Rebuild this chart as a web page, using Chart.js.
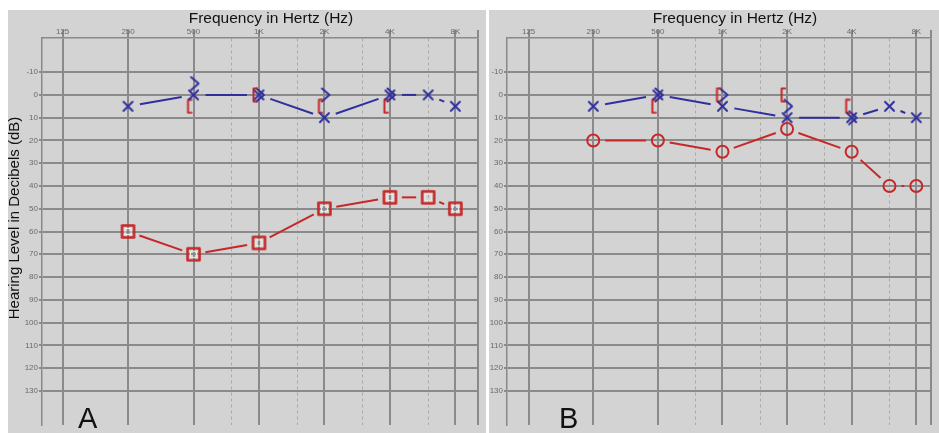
<!DOCTYPE html>
<html>
<head>
<meta charset="utf-8">
<script src="https://cdn.jsdelivr.net/npm/chart.js@4.4.0/dist/chart.umd.min.js"></script>
<style>
html,body{margin:0;padding:0;background:#fff;}
body{width:939px;height:433px;position:relative;overflow:hidden;}
.panel{position:absolute;top:10px;height:423px;background:#d3d3d3;}
#pa{left:8px;width:478px;}
#pb{left:489px;width:450px;}
canvas{display:block;}
</style>
</head>
<body>
<div class="panel" id="pa"><canvas id="chartA" width="478" height="423"></canvas></div>
<div class="panel" id="pb"><canvas id="chartB" width="450" height="423"></canvas></div>
<script>
// frequencies (Hz) and hearing levels (dB HL)
const freqs = [250, 500, 1000, 2000, 4000, 6000, 8000];
const boneFreqs = [500, 1000, 2000, 4000];
const freqTicks = [125, 250, 500, 750, 1000, 1500, 2000, 3000, 4000, 6000, 8000];
const freqLabels = ['125', '250', '500', '', '1K', '', '2K', '', '4K', '', '8K'];
const dbTicks = [-10, 0, 10, 20, 30, 40, 50, 60, 70, 80, 90, 100, 110, 120, 130];

// panel A
const aRightAir = [60, 70, 65, 50, 45, 45, 50];
const aLeftAir = [5, 0, 0, 10, 0, 0, 5];
const aLeftBone = [-5, 0, 0, 0];
const aRightBoneMasked = [5, 0, 5, 5];

// panel B
const bRightAir = [20, 20, 25, 15, 25, 40, 40];
const bLeftAir = [5, 0, 5, 10, 10, 5, 10];
const bLeftBone = [0, 0, 5, 10];
const bRightBoneMasked = [5, 0, 0, 5];

const BLUE = '#2f2f9e';
const RED = '#c62828';
const GRID = '#8a8a8a';
const FONT = '"Liberation Sans", Arial, sans-serif';
const minorFreqs = [750, 1500, 3000, 6000];

function glyph(w, h, color, lw, path){
    const c = document.createElement('canvas');
    c.width = w; c.height = h;
    const g = c.getContext('2d');
    g.strokeStyle = color; g.lineWidth = lw;
    g.lineCap = 'round'; g.lineJoin = 'round';
    g.beginPath(); path(g); g.stroke();
    return c;
}
const xMark = glyph(13, 13, BLUE, 2, g => { g.moveTo(2,2); g.lineTo(11,11); g.moveTo(11,2); g.lineTo(2,11); });
const chevron = glyph(16, 16, BLUE, 2, g => { g.moveTo(5.5,1.5); g.lineTo(13,8); g.lineTo(5.5,14.5); });
const bracket = glyph(16, 16, RED, 2, g => { g.moveTo(6,1.5); g.lineTo(2.5,1.5); g.lineTo(2.5,14.5); g.lineTo(6,14.5); });
const square = (function(){
    const c = glyph(17, 17, RED, 2.6, g => { g.rect(2.5, 2.5, 12, 12); });
    const g = c.getContext('2d');
    g.strokeStyle = '#ececec'; g.lineWidth = 1.2;
    g.strokeRect(5.5, 5.5, 6, 6);
    return c;
})();

// leave a gap around each symbol, as audiogram software does
function gapDash(c){
    const len = Math.hypot(c.p1.x - c.p0.x, c.p1.y - c.p0.y);
    const g = Math.min(12, len / 2 - 1);
    return [0, g, Math.max(len - 2 * g, 0), 1000 + c.p0DataIndex * 0.01];
}

function pts(xs, ys){ return xs.map((f, i) => ({x: f, y: ys[i]})); }

const textPlugin = {
    id: 'panelText',
    afterDraw(chart, args, o){
        const ctx = chart.ctx;
        ctx.save();
        ctx.fillStyle = '#111';
        ctx.font = '15.5px ' + FONT;
        ctx.textAlign = 'center';
        ctx.textBaseline = 'alphabetic';
        ctx.fillText('Frequency in Hertz (Hz)', o.titleX, 13);
        if (o.yLabel) {
            ctx.save();
            ctx.font = '15px ' + FONT;
            ctx.translate(11, 208);
            ctx.rotate(-Math.PI / 2);
            ctx.fillText(o.yLabel, 0, 0);
            ctx.restore();
        }
        ctx.font = '29px ' + FONT;
        ctx.textAlign = 'left';
        ctx.fillText(o.letter, 70, 418);
        ctx.restore();
    }
};

function audiogram(id, opt){
    const ctx = document.getElementById(id).getContext('2d');
    new Chart(ctx, {
        type: 'line',
        data: {
            datasets: [
                {
                    data: pts(freqs, opt.rightAir),
                    borderColor: RED, borderWidth: 2, tension: 0,
                    pointStyle: opt.rightStyle, pointRadius: 6,
                    pointBorderColor: RED, pointBorderWidth: 2,
                    pointBackgroundColor: 'rgba(0,0,0,0)',
                    segment: {borderDash: gapDash}
                },
                {
                    data: pts(freqs, opt.leftAir),
                    borderColor: BLUE, borderWidth: 2, tension: 0,
                    pointStyle: xMark, pointRadius: 6,
                    segment: {borderDash: gapDash}
                },
                {
                    data: pts(boneFreqs, opt.rightBone),
                    showLine: false, pointStyle: bracket, pointRadius: 7
                },
                {
                    data: pts(boneFreqs, opt.leftBone),
                    showLine: false, pointStyle: chevron, pointRadius: 7
                }
            ]
        },
        options: {
            responsive: false,
            animation: false,
            events: [],
            layout: {padding: {right: opt.padRight, left: 0, top: 0, bottom: 0}},
            plugins: {
                legend: {display: false},
                tooltip: {enabled: false},
                panelText: {titleX: opt.titleX, yLabel: opt.yLabel, letter: opt.letter}
            },
            scales: {
                x: {
                    type: 'logarithmic', position: 'top',
                    min: opt.xMin, max: opt.xMax, bounds: 'data',
                    afterBuildTicks(s){ s.ticks = freqTicks.concat([opt.xMax]).map(v => ({value: v})); },
                    afterFit(s){ s.height = 28; s.paddingLeft = 0; s.paddingRight = 0; },
                    ticks: {
                        autoSkip: false, maxRotation: 0, padding: -7,
                        color: '#6a6a6a', font: {size: 8, family: FONT},
                        callback: (v, i) => freqLabels[i] || ''
                    },
                    grid: {
                        tickLength: 8,
                        color: c => minorFreqs.includes(c.tick && c.tick.value) ? '#a9a9a9' : GRID,
                        tickColor: c => minorFreqs.includes(c.tick && c.tick.value) ? 'rgba(0,0,0,0)' : GRID,
                        lineWidth: c => minorFreqs.includes(c.tick && c.tick.value) ? 1 : 2
                    },
                    border: {
                        display: true, color: GRID, width: 1.5,
                        dash: c => (c.tick && minorFreqs.includes(c.tick.value)) ? [3, 3] : []
                    }
                },
                y: {
                    type: 'linear', reverse: true, min: -25, max: 145, bounds: 'data',
                    afterBuildTicks(s){ s.ticks = dbTicks.map(v => ({value: v})); },
                    afterFit(s){ s.width = opt.yWidth; s.paddingTop = 0; s.paddingBottom = 0; },
                    ticks: {
                        autoSkip: false, padding: 1,
                        color: '#6a6a6a', font: {size: 8, family: FONT},
                        callback: v => String(v)
                    },
                    grid: {color: GRID, lineWidth: 2, tickLength: 3},
                    border: {display: true, color: GRID, width: 1.5}
                }
            }
        },
        plugins: [textPlugin]
    });
}

audiogram('chartA', {
    rightAir: aRightAir, leftAir: aLeftAir, rightBone: aRightBoneMasked, leftBone: aLeftBone,
    rightStyle: square, xMin: 100.5, xMax: 10170, yWidth: 34, padRight: 1,
    titleX: 263, yLabel: 'Hearing Level in Decibels (dB)', letter: 'A'
});
audiogram('chartB', {
    rightAir: bRightAir, leftAir: bLeftAir, rightBone: bRightBoneMasked, leftBone: bLeftBone,
    rightStyle: 'circle', xMin: 99.1, xMax: 9367, yWidth: 18, padRight: 0,
    titleX: 246, yLabel: '', letter: 'B'
});
</script>
</body>
</html>
